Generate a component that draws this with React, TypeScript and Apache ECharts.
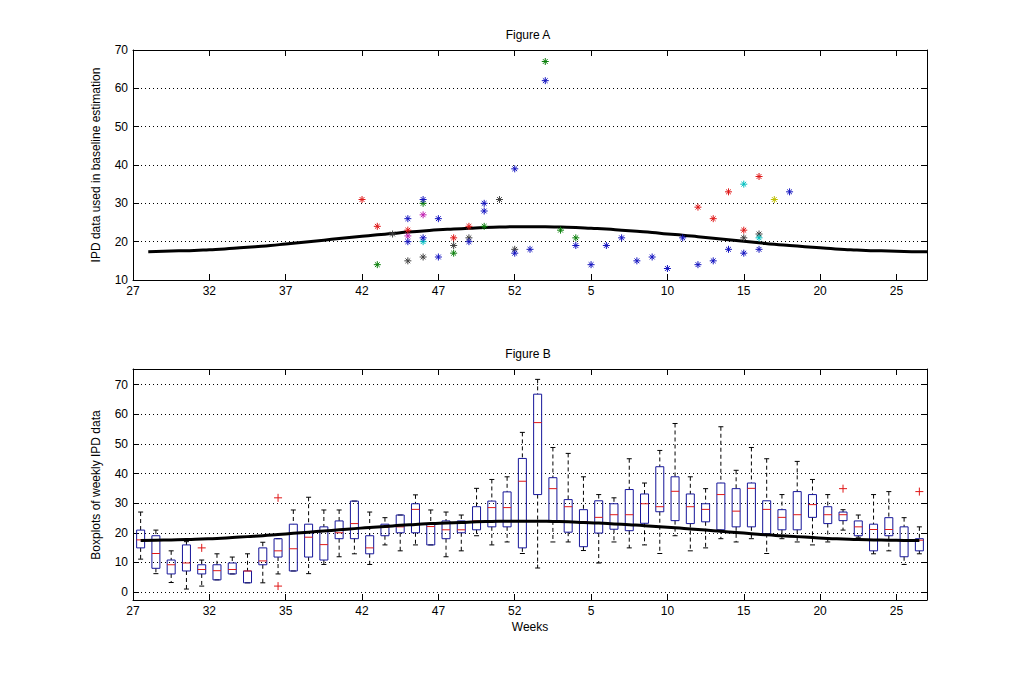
import React, { useEffect, useRef } from 'react';
import * as echarts from 'echarts';

// ---------- DATA ----------
// x positions are week indices counted from week 27 (index 0) over one season of 52 weeks
const WEEK_LABELS_A = ['27', '32', '37', '42', '47', '52', '5', '10', '15', '20', '25'];
const WEEK_LABELS_B = ['27', '32', '35', '42', '47', '52', '5', '10', '15', '20', '25'];

// baseline (seasonal) estimate, one value per week index 1..52
const BASELINE = [
  17.4, 17.5, 17.6, 17.7, 17.9, 18.1, 18.4, 18.7, 19.0, 19.4,
  19.8, 20.2, 20.6, 21.0, 21.4, 21.8, 22.1, 22.5, 22.8, 23.1,
  23.3, 23.5, 23.7, 23.8, 23.9, 23.9, 23.9, 23.8, 23.7, 23.5,
  23.3, 23.0, 22.7, 22.4, 22.0, 21.7, 21.3, 20.9, 20.5, 20.1,
  19.7, 19.3, 19.0, 18.7, 18.4, 18.1, 17.9, 17.7, 17.6, 17.5,
  17.4, 17.35,
];

// Figure A: IPD data points [week index, value], by season colour
const PTS_BLUE = [
  [18, 26], [18, 20], [19, 31], [19, 21], [20, 26], [20, 16], [22, 20], [23, 30], [23, 28],
  [25, 39], [25, 17], [26, 18], [27, 62], [29, 19], [30, 14], [31, 19], [32, 21], [33, 15],
  [34, 16], [35, 13], [36, 21], [37, 14], [38, 15], [39, 18], [40, 17], [41, 18], [43, 33],
];
const PTS_GREEN = [[16, 14], [19, 30], [21, 17], [23, 24], [27, 67], [28, 23], [29, 21]];
const PTS_RED = [
  [15, 31], [16, 24], [18, 23], [21, 21], [22, 24], [37, 29], [38, 26], [39, 33], [40, 23], [41, 37],
];
const PTS_CYAN = [[19, 20], [40, 35], [41, 21]];
const PTS_MAGENTA = [[18, 21.5], [19, 27]];
const PTS_YELLOW = [[42, 31]];
const PTS_GRAY = [[17, 22], [18, 15], [19, 16], [21, 19], [22, 21], [24, 31], [25, 18], [40, 21], [41, 22]];

// Figure B: weekly boxplots (52 weeks)
const BOX_MIN = [
  11.1, 6.2, 3.2, 1.0, 2.0, 4.1, 6.1, 3.1, 3.1, 6.1, 7.1, 6.2, 9.3, 11.9, 12.9, 9.3, 15.9, 13.9,
  15.9, 15.9, 11.9, 13.9, 19.0, 15.9, 16.9, 13.0, 8.1, 16.9, 16.9, 14.0, 9.8, 16.9, 14.9, 15.9,
  13.0, 19.0, 13.9, 14.9, 18.0, 16.9, 18.0, 13.0, 18.0, 16.9, 15.9, 16.9, 20.9, 18.5, 12.9, 13.9,
  9.3, 12.9,
];
const BOX_Q1 = [
  14.9, 8.0, 6.1, 7.1, 6.1, 4.1, 6.1, 3.1, 9.2, 11.8, 7.1, 11.8, 10.8, 18.0, 18.0, 12.9, 19.0, 20.0,
  20.0, 15.9, 18.0, 20.0, 21.0, 22.0, 22.0, 14.9, 32.9, 24.0, 20.2, 15.3, 19.9, 21.2, 20.7, 23.2,
  27.1, 24.1, 23.1, 23.7, 21.0, 22.0, 22.0, 19.7, 21.0, 21.0, 25.2, 23.1, 24.1, 19.0, 13.9, 19.0,
  11.9, 13.9,
];
const BOX_MED = [
  17.6, 13.0, 9.2, 9.8, 7.6, 7.2, 7.6, 7.1, 10.5, 13.9, 14.6, 18.5, 16.0, 20.0, 23.1, 14.9, 21.8, 22.0,
  27.9, 22.1, 21.0, 21.0, 24.0, 28.5, 28.5, 37.4, 57.2, 34.9, 28.8, 23.8, 25.2, 26.1, 26.1, 29.8,
  28.8, 34.0, 28.8, 27.9, 32.9, 27.3, 35.0, 27.9, 25.2, 26.1, 29.5, 26.1, 26.1, 22.0, 21.1, 21.1,
  17.3, 17.5,
];
const BOX_Q3 = [
  20.9, 19.0, 10.8, 15.9, 9.2, 9.2, 9.8, 7.1, 14.9, 18.0, 22.9, 22.9, 22.0, 24.0, 30.7, 19.0, 22.9, 26.0,
  29.8, 22.9, 24.0, 24.0, 28.8, 30.7, 33.8, 45.1, 66.8, 38.6, 31.2, 27.8, 30.8, 29.8, 34.6, 33.1,
  42.3, 38.9, 33.1, 29.8, 36.8, 34.9, 36.8, 30.8, 27.8, 33.9, 32.9, 28.8, 27.0, 24.0, 22.9, 25.1,
  22.0, 18.0,
];
const BOX_MAX = [
  27.0, 20.9, 13.9, 17.0, 10.8, 12.9, 11.8, 12.9, 16.8, 18.0, 27.7, 32.0, 27.7, 27.7, 30.7, 27.0, 25.1, 26.0,
  32.8, 27.7, 27.0, 26.0, 35.0, 38.0, 38.9, 53.9, 71.8, 48.8, 46.8, 38.9, 32.9, 31.8, 45.0, 36.8,
  47.8, 56.9, 38.9, 34.9, 55.8, 41.1, 48.8, 45.0, 32.9, 44.1, 38.0, 32.9, 27.8, 26.0, 32.9, 33.9,
  25.1, 22.0,
];
// outliers: [box index, value]
const OUTLIERS = [[4, 14.9], [9, 31.8], [9, 2.0], [46, 34.9], [51, 33.9]];

// ---------- STYLE ----------
const FONT = '"Liberation Sans", Arial, Helvetica, sans-serif';
const STAR = 'path://M5,0L5,10M0,5L10,5M1.6,1.6L8.4,8.4M1.6,8.4L8.4,1.6';
const PLUS = 'path://M5,0L5,10M0,5L10,5';

const labelFmt = (labels: string[]) => (v: number) => {
  const k = Math.round(v / 5);
  return Math.abs(v - k * 5) < 1e-6 && k < labels.length && v < 51 ? labels[k] : '';
};

const tick = { show: true, inside: true, length: 6, lineStyle: { color: '#000', width: 1 } };
const aLine = { show: true, onZero: false, lineStyle: { color: '#000', width: 1 } };
const dotted = { show: true, lineStyle: { color: '#000', width: 1, type: [1, 3] as any } };
const lbl = { color: '#000', fontSize: 12, fontFamily: FONT, margin: 5 };

function starSeries(data: number[][], color: string) {
  return {
    type: 'scatter',
    xAxisIndex: 0,
    yAxisIndex: 0,
    data,
    symbol: STAR,
    symbolSize: 7,
    itemStyle: { color: 'none', borderColor: color, borderWidth: 1, opacity: 1 },
    z: 5,
  };
}

export default function App() {
  const ref = useRef<HTMLDivElement>(null);

  useEffect(() => {
    if (!ref.current) return;
    const chart = echarts.init(ref.current, undefined, { renderer: 'svg' });

    const baselineA = BASELINE.map((v, i) => [i + 1, v]);
    const baselineB = BASELINE.map((v, i) => [i + 0.5, v]);
    const boxes = BOX_MIN.map((_, i) => [i + 0.5, BOX_MIN[i], BOX_Q1[i], BOX_MED[i], BOX_Q3[i], BOX_MAX[i]]);
    const outliers = OUTLIERS.map(([i, v]) => [i + 0.5, v]);

    const option: any = {
      animation: false,
      backgroundColor: '#fff',
      grid: [
        { left: 133, top: 50, width: 794, height: 230 },
        { left: 133, top: 369, width: 794, height: 231 },
      ],
      xAxis: [
        {
          type: 'value', gridIndex: 0, position: 'bottom', min: 0, max: 52, interval: 5,
          axisLine: aLine, axisTick: tick, splitLine: { show: false },
          axisLabel: { ...lbl, formatter: labelFmt(WEEK_LABELS_A), showMaxLabel: false },
        },
        {
          type: 'value', gridIndex: 0, position: 'top', min: 0, max: 52, interval: 5,
          axisLine: aLine, axisTick: tick, splitLine: { show: false }, axisLabel: { show: false },
        },
        {
          type: 'value', gridIndex: 1, position: 'bottom', min: 0, max: 52, interval: 5,
          axisLine: aLine, axisTick: tick, splitLine: { show: false },
          axisLabel: { ...lbl, formatter: labelFmt(WEEK_LABELS_B), showMaxLabel: false },
          name: 'Weeks', nameLocation: 'middle', nameGap: 21,
          nameTextStyle: { color: '#000', fontSize: 12, fontFamily: FONT },
        },
        {
          type: 'value', gridIndex: 1, position: 'top', min: 0, max: 52, interval: 5,
          axisLine: aLine, axisTick: tick, splitLine: { show: false }, axisLabel: { show: false },
        },
      ],
      yAxis: [
        {
          type: 'value', gridIndex: 0, position: 'left', min: 10, max: 70, interval: 10,
          axisLine: aLine, axisTick: tick, splitLine: dotted, axisLabel: lbl,
        },
        {
          type: 'value', gridIndex: 0, position: 'right', min: 10, max: 70, interval: 10,
          axisLine: aLine, axisTick: tick, splitLine: { show: false }, axisLabel: { show: false },
        },
        {
          type: 'value', gridIndex: 1, position: 'left', min: -2.7, max: 75.3, splitNumber: 8,
          axisLine: aLine, axisTick: tick, splitLine: dotted,
          axisLabel: {
            ...lbl, showMinLabel: false, showMaxLabel: false,
            formatter: (v: number) => (Math.abs(v - Math.round(v / 10) * 10) < 1e-6 ? String(Math.round(v)) : ''),
          },
        },
        {
          type: 'value', gridIndex: 1, position: 'right', min: -2.7, max: 75.3, splitNumber: 8,
          axisLine: aLine, axisTick: tick, splitLine: { show: false }, axisLabel: { show: false },
        },
      ],
      graphic: [
        {
          type: 'text', x: 528, y: 35,
          style: { text: 'Figure A', align: 'center', verticalAlign: 'middle', fill: '#000', fontSize: 12, fontFamily: FONT },
        },
        {
          type: 'text', x: 528, y: 354,
          style: { text: 'Figure B', align: 'center', verticalAlign: 'middle', fill: '#000', fontSize: 12, fontFamily: FONT },
        },
        {
          type: 'text', x: 96, y: 165, rotation: Math.PI / 2,
          style: { text: 'IPD data used in baseline estimation', align: 'center', verticalAlign: 'middle', fill: '#000', fontSize: 12, fontFamily: FONT },
        },
        {
          type: 'text', x: 96, y: 485, rotation: Math.PI / 2,
          style: { text: 'Boxplots of weekly IPD data', align: 'center', verticalAlign: 'middle', fill: '#000', fontSize: 12, fontFamily: FONT },
        },
      ],
      series: [
        {
          type: 'line', xAxisIndex: 0, yAxisIndex: 0, data: baselineA, showSymbol: false, symbol: 'none',
          smooth: true, lineStyle: { color: '#000', width: 3 }, z: 3,
        },
        starSeries(PTS_GRAY, '#404040'),
        starSeries(PTS_YELLOW, '#bfbf00'),
        starSeries(PTS_MAGENTA, '#c020b0'),
        starSeries(PTS_CYAN, '#00bfbf'),
        starSeries(PTS_GREEN, '#0a7f0a'),
        starSeries(PTS_RED, '#e01818'),
        starSeries(PTS_BLUE, '#1414c0'),
        {
          type: 'custom', xAxisIndex: 2, yAxisIndex: 2, data: boxes, z: 2,
          encode: { x: 0, y: [1, 2, 3, 4, 5] },
          renderItem: (params: any, api: any) => {
            const x = api.value(0);
            const px = api.coord([x, 0])[0];
            const y = (k: number) => api.coord([x, api.value(k)])[1];
            const yMin = y(1), yQ1 = y(2), yMed = y(3), yQ3 = y(4), yMax = y(5);
            const hw = 4, cw = 2.5;
            const black = { stroke: '#000', lineWidth: 1 };
            const dash = { stroke: '#000', lineWidth: 1, lineDash: [4, 3] };
            return {
              type: 'group',
              children: [
                { type: 'line', shape: { x1: px, y1: yMax, x2: px, y2: yQ3 }, style: dash },
                { type: 'line', shape: { x1: px, y1: yQ1, x2: px, y2: yMin }, style: dash },
                { type: 'line', shape: { x1: px - cw, y1: yMax, x2: px + cw, y2: yMax }, style: black },
                { type: 'line', shape: { x1: px - cw, y1: yMin, x2: px + cw, y2: yMin }, style: black },
                {
                  type: 'rect', shape: { x: px - hw, y: yQ3, width: hw * 2, height: Math.max(yQ1 - yQ3, 0.5) },
                  style: { fill: 'none', stroke: '#16169a', lineWidth: 1 },
                },
                { type: 'line', shape: { x1: px - hw, y1: yMed, x2: px + hw, y2: yMed }, style: { stroke: '#e01818', lineWidth: 1 } },
              ],
            };
          },
        },
        {
          type: 'line', xAxisIndex: 2, yAxisIndex: 2, data: baselineB, showSymbol: false, symbol: 'none',
          smooth: true, lineStyle: { color: '#000', width: 3 }, z: 4,
        },
        {
          type: 'scatter', xAxisIndex: 2, yAxisIndex: 2, data: outliers, symbol: PLUS, symbolSize: 8,
          itemStyle: { color: 'none', borderColor: '#e01818', borderWidth: 1, opacity: 1 }, z: 5,
        },
      ],
    };

    chart.setOption(option);
    return () => chart.dispose();
  }, []);

  return (
    <div
      ref={ref}
      style={{ position: 'absolute', left: 0, top: 0, width: 1024, height: 673, background: '#fff' }}
    />
  );
}
